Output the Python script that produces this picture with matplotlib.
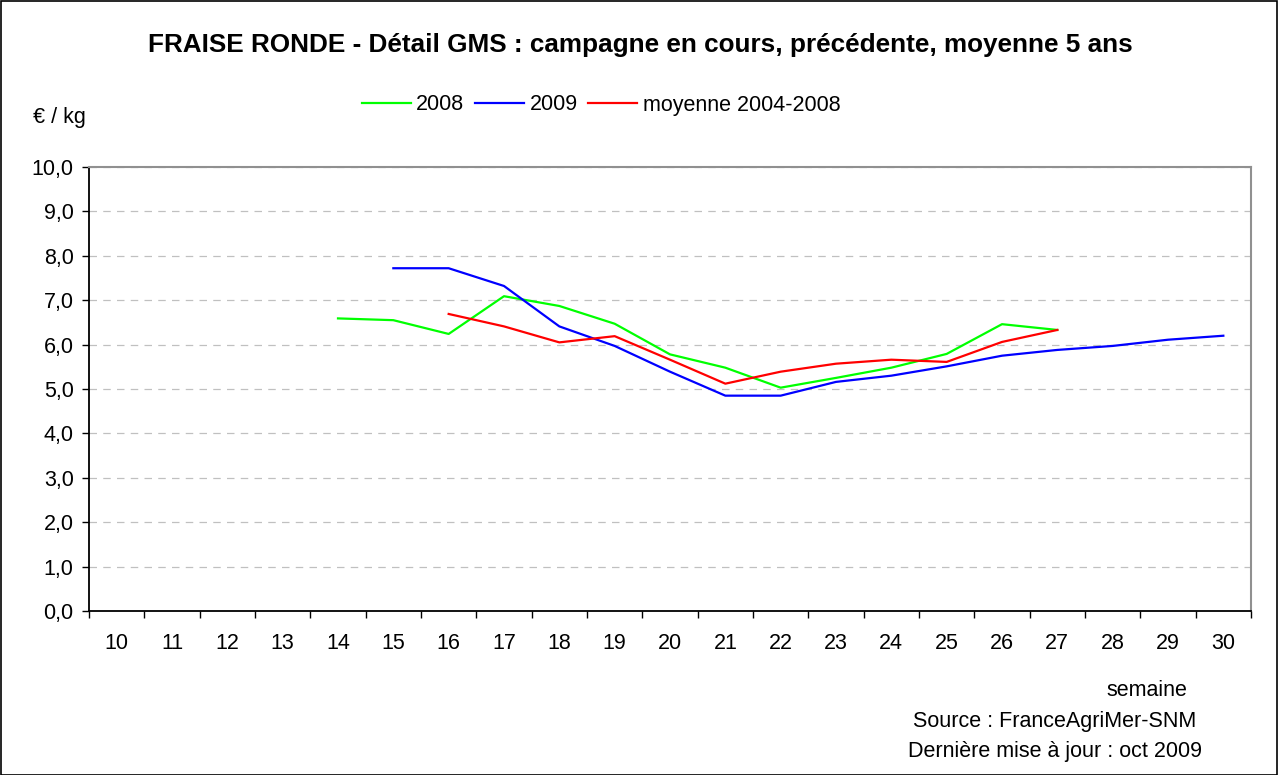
import matplotlib
matplotlib.use("Agg")
import matplotlib.pyplot as plt
from matplotlib.patches import Rectangle
import numpy as np

plt.rcParams['font.family'] = ['Liberation Sans', 'DejaVu Sans']

weeks = list(range(10, 31))
week_labels = [str(w) for w in weeks]

weeks_2008 = [14, 15, 16, 17, 18, 19, 20, 21, 22, 23, 24, 25, 26, 27]
vals_2008 = [6.59, 6.55, 6.24, 7.09, 6.87, 6.47, 5.78, 5.48, 5.03, 5.25, 5.48, 5.79, 6.46, 6.33]

weeks_2009 = [15, 16, 17, 18, 19, 20, 21, 22, 23, 24, 25, 26, 27, 28, 29, 30]
vals_2009 = [7.72, 7.72, 7.32, 6.41, 5.97, 5.39, 4.85, 4.85, 5.16, 5.30, 5.51, 5.75, 5.88, 5.97, 6.11, 6.20]

weeks_moy = [16, 17, 18, 19, 20, 21, 22, 23, 24, 25, 26, 27]
vals_moy = [6.69, 6.41, 6.05, 6.19, 5.66, 5.12, 5.39, 5.57, 5.66, 5.61, 6.06, 6.33]

FS = 15.5
W, H = 1278, 775
fig = plt.figure(figsize=(W / 100, H / 100), dpi=100)
fig.patch.set_facecolor('white')
fig.patches.append(Rectangle((0.5 / W, 0.5 / H), 1 - 1.5 / W, 1 - 1.5 / H, transform=fig.transFigure,
                             fill=False, edgecolor='black', linewidth=1.2))

left, right, top, bottom = 89, 1251, 167, 611
ax = fig.add_axes([left / W, 1 - bottom / H, (right - left) / W, (bottom - top) / H])

def xpos(ws):
    return [w - weeks[0] for w in ws]

ax.plot(xpos(weeks_2008), vals_2008, color='#00ff00', lw=1.6, label='2008')
ax.plot(xpos(weeks_2009), vals_2009, color='#0000ff', lw=1.6, label='2009')
ax.plot(xpos(weeks_moy), vals_moy, color='#ff0000', lw=1.6, label='moyenne 2004-2008')

ax.set_xlim(-0.5, len(weeks) - 0.5)
ax.set_ylim(0, 10)
ax.set_yticks(np.arange(0, 10.01, 1.0))
ax.set_yticklabels([f"{v:.1f}".replace('.', ',') for v in np.arange(0, 10.01, 1.0)], fontsize=FS)
ax.set_xticks(np.arange(-0.5, len(weeks), 1.0))
ax.set_xticklabels([])
ax.set_xticks(np.arange(len(weeks)), minor=True)
ax.set_xticklabels(week_labels, minor=True, fontsize=FS)
ax.tick_params(axis='x', which='major', direction='out', length=5, width=1, color='black')
ax.tick_params(axis='x', which='minor', length=0, pad=16)
ax.tick_params(axis='y', direction='out', length=5, width=1, pad=6)

ax.grid(axis='y', which='major', color='#c0c0c0', linestyle=(0, (6, 5)), linewidth=0.9)
ax.set_axisbelow(True)
for s in ['top', 'right']:
    ax.spines[s].set_color('#909090')
    ax.spines[s].set_linewidth(1.5)
for s in ['left', 'bottom']:
    ax.spines[s].set_color('black')
    ax.spines[s].set_linewidth(1.3)

fig.text(640 / W, 1 - 45 / H, "FRAISE RONDE - Détail GMS : campagne en cours, précédente, moyenne 5 ans",
         ha='center', va='center', fontsize=18.8, fontweight='bold')
fig.text(33 / W, 1 - 117 / H, "€ / kg", ha='left', va='center', fontsize=FS)

leg = ax.legend(loc='center', bbox_to_anchor=(601 / W, 1 - 105 / H), bbox_transform=fig.transFigure,
                ncol=3, frameon=False, fontsize=FS, handlelength=2.28, handletextpad=0.25,
                columnspacing=0.5, borderpad=0, borderaxespad=0)

fig.text(1147 / W, 1 - 690 / H, "semaine", ha='center', va='center', fontsize=FS)
fig.text(1055 / W, 1 - 721 / H, "Source : FranceAgriMer-SNM", ha='center', va='center', fontsize=FS)
fig.text(1055 / W, 1 - 751 / H, "Dernière mise à jour : oct 2009", ha='center', va='center', fontsize=FS)

fig.savefig('out.png', dpi=100)
